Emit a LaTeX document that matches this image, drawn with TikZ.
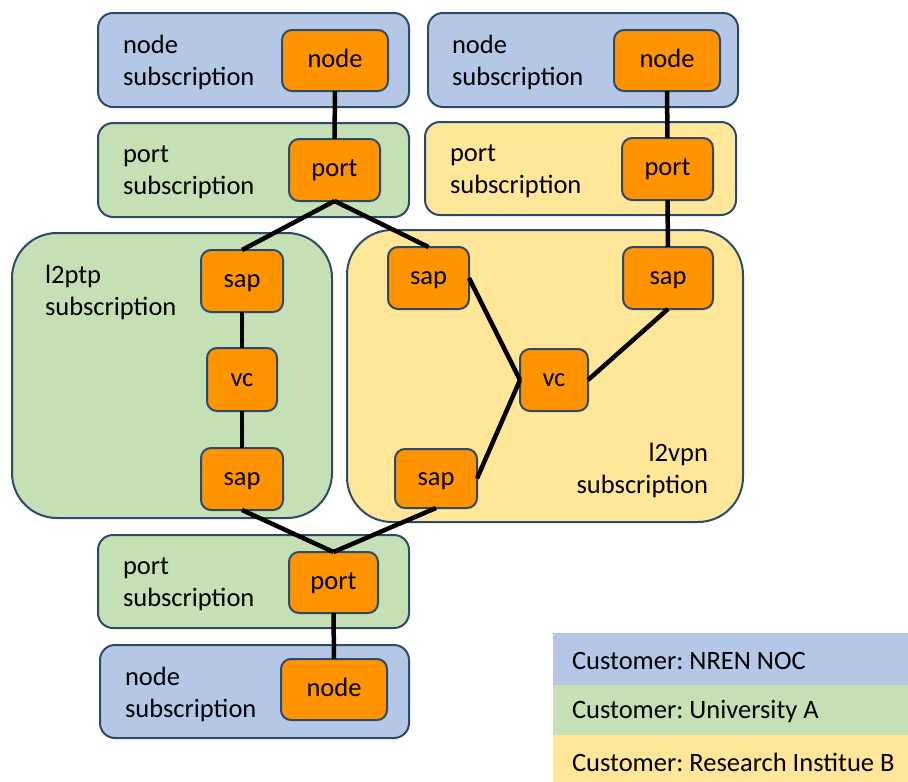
\documentclass[tikz,border=0pt]{standalone}
\usepackage{fontspec}
\setmainfont{Carlito}
\frenchspacing
\definecolor{cblue}{HTML}{B4C7E7}
\definecolor{cgreen}{HTML}{C5E0B4}
\definecolor{cyellow}{HTML}{FFE699}
\definecolor{corange}{HTML}{FF9300}
\definecolor{cedge}{HTML}{2E4A6B}
\begin{document}
\begin{tikzpicture}[x=1pt,y=-1pt,
  every node/.style={font=\fontsize{26.5}{32}\selectfont, inner sep=0pt, outer sep=0pt},
  subbox/.style={draw=cedge, line width=2pt, rounded corners=15pt},
  bigbox/.style={draw=cedge, line width=2pt, rounded corners=45pt},
  obox/.style={draw=cedge, line width=2pt, fill=corange, rounded corners=10pt, minimum height=62pt, text height=18pt, text depth=5pt},
  lbl/.style={align=left, anchor=west},
  conn/.style={line width=4.5pt, black},
  legrow/.style={minimum width=355pt, anchor=north west}
]
\useasboundingbox (0,0) rectangle (908,782);

% subscription containers
\node[subbox, fill=cblue, minimum width=311pt, minimum height=94pt] (nsA) at (253.5,60) {};
\node[subbox, fill=cgreen, minimum width=311pt, minimum height=94pt] (psA) at (253.5,170) {};
\node[subbox, fill=cblue, minimum width=310pt, minimum height=94pt] (nsB) at (583,60) {};
\node[subbox, fill=cyellow, minimum width=311pt, minimum height=93pt] (psB) at (580.5,168.5) {};
\node[bigbox, fill=cgreen, minimum width=320pt, minimum height=285pt] (l2ptp) at (172,375.5) {};
\node[bigbox, fill=cyellow, minimum width=396pt, minimum height=292pt] (l2vpn) at (545,376) {};
\node[subbox, fill=cgreen, minimum width=311pt, minimum height=93pt] (psC) at (253.5,581.5) {};
\node[subbox, fill=cblue, minimum width=309pt, minimum height=93pt] (nsC) at (254.5,691.5) {};

% container labels
\node[lbl] (tnsA) at (123,62) {node\\subscription};
\node[lbl] (tpsA) at (123,172) {port\\subscription};
\node[lbl] (tnsB) at (452,62) {node\\subscription};
\node[lbl] (tpsB) at (450,171) {port\\subscription};
\node[lbl] (tl2ptp) at (45,292) {l2ptp\\subscription};
\node[align=right, anchor=east] (tl2vpn) at (708,470) {l2vpn\\subscription};
\node[lbl] (tpsC) at (123,584) {port\\subscription};
\node[lbl] (tnsC) at (125,694) {node\\subscription};

% orange elements
\node[obox, minimum width=106pt, minimum height=61pt] (nodeA) at (335,60.5) {node};
\node[obox, minimum width=91pt] (portA) at (334.5,170) {port};
\node[obox, minimum width=106pt, minimum height=61pt] (nodeB) at (667,60.5) {node};
\node[obox, minimum width=91pt] (portB) at (667.5,169) {port};
\node[obox, minimum width=82pt] (sapL1) at (242,281) {sap};
\node[obox, minimum width=70pt, minimum height=63pt] (vcL) at (242,379.5) {vc};
\node[obox, minimum width=82pt] (sapL2) at (242,479) {sap};
\node[obox, minimum width=81pt] (sapR1) at (428.5,278) {sap};
\node[obox, minimum width=90pt] (sapR2) at (668,278) {sap};
\node[obox, minimum width=68pt] (vcR) at (554,380) {vc};
\node[obox, minimum width=82pt, minimum height=59pt] (sapR3) at (436,478.5) {sap};
\node[obox, minimum width=89pt, minimum height=61pt] (portC) at (333.5,582.5) {port};
\node[obox, minimum width=106pt, minimum height=61pt] (nodeC) at (334,689.5) {node};

% connectors
\draw[conn] (nodeA.south) -- (portA.north);
\draw[conn] (nodeB.south) -- (portB.north);
\draw[conn] (portB.south) -- (sapR2.north);
\draw[conn] (portA.south) -- (sapL1.north);
\draw[conn] (portA.south) -- (sapR1.north);
\draw[conn] (sapL1.south) -- (vcL.north);
\draw[conn] (vcL.south) -- (sapL2.north);
\draw[conn] (sapR1.east) -- (vcR.west);
\draw[conn] (sapR3.east) -- (vcR.west);
\draw[conn] (vcR.east) -- (sapR2.south);
\draw[conn] (sapL2.south) -- (portC.north);
\draw[conn] (sapR3.south) -- (portC.north);
\draw[conn] (portC.south) -- (nodeC.north);

% legend
\node[legrow, fill=cblue, minimum height=52pt] (legA) at (553,633) {};
\node[legrow, fill=cgreen, minimum height=50pt] (legB) at (553,685) {};
\node[legrow, fill=cyellow, minimum height=47pt] (legC) at (553,735) {};
\node[lbl] (tlegA) at (572,661) {Customer: NREN NOC};
\node[lbl] (tlegB) at (572,712) {Customer: University A};
\node[lbl] (tlegC) at (572,762) {Customer: Research Institue B};
\end{tikzpicture}
\end{document}
